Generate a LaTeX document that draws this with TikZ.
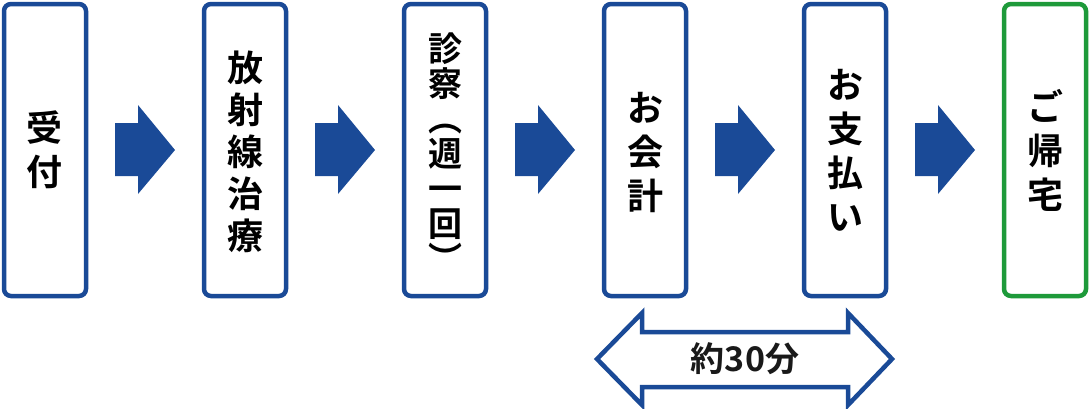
\documentclass[tikz,border=0pt]{standalone}
\usepackage{fontspec}
\newfontfamily\jp{Noto Sans CJK JP Bold}
\definecolor{bl}{HTML}{1A4A97}
\definecolor{gr}{HTML}{1E9A3A}
\begin{document}
\begin{tikzpicture}[x=1pt,y=-1pt,
 box/.style={draw=bl,line width=4.5pt,rounded corners=7pt,fill=white},
 lbl/.style={font=\jp\fontsize{36}{44}\selectfont,align=center,inner sep=0pt},
 blk/.style={fill=bl}]
\useasboundingbox (0,0) rectangle (1090,408);
\foreach \i/\c in {0/bl,1/bl,2/bl,3/bl,4/bl,5/gr}{
 \draw[box,draw=\c] (4+200*\i,4) rectangle (86+200*\i,296);
}
\foreach \i in {0,...,4}{
 \fill[bl] (115+200*\i,123) -- (138+200*\i,123) -- (138+200*\i,105) -- (175+200*\i,150) -- (138+200*\i,194) -- (138+200*\i,176) -- (115+200*\i,176) -- cycle;
}
\node[lbl] (a) at (45,150) {受\\付};
\node[lbl,font=\jp\fontsize{36}{42}\selectfont] (b) at (245,152) {放\\射\\線\\治\\療};
\node[lbl,font=\jp\fontsize{34}{35}\selectfont] (c) at (445,152) {診\\察\\︵\\週\\一\\回\\︶};
\node[lbl] (d) at (645,152) {お\\会\\計};
\node[lbl] (e) at (845,150) {お\\支\\払\\い};
\node[lbl] (f) at (1045,150) {ご\\帰\\宅};
\draw[bl,line width=4.5pt,line join=miter,fill=white] (597,359) -- (642,313) -- (642,332) -- (848,332) -- (848,313) -- (892,359) -- (848,405) -- (848,387) -- (642,387) -- (642,405) -- cycle;
\node[font=\jp\fontsize{34}{36}\selectfont,text=black!90] (t) at (745,359) {約30分};
\end{tikzpicture}
\end{document}
